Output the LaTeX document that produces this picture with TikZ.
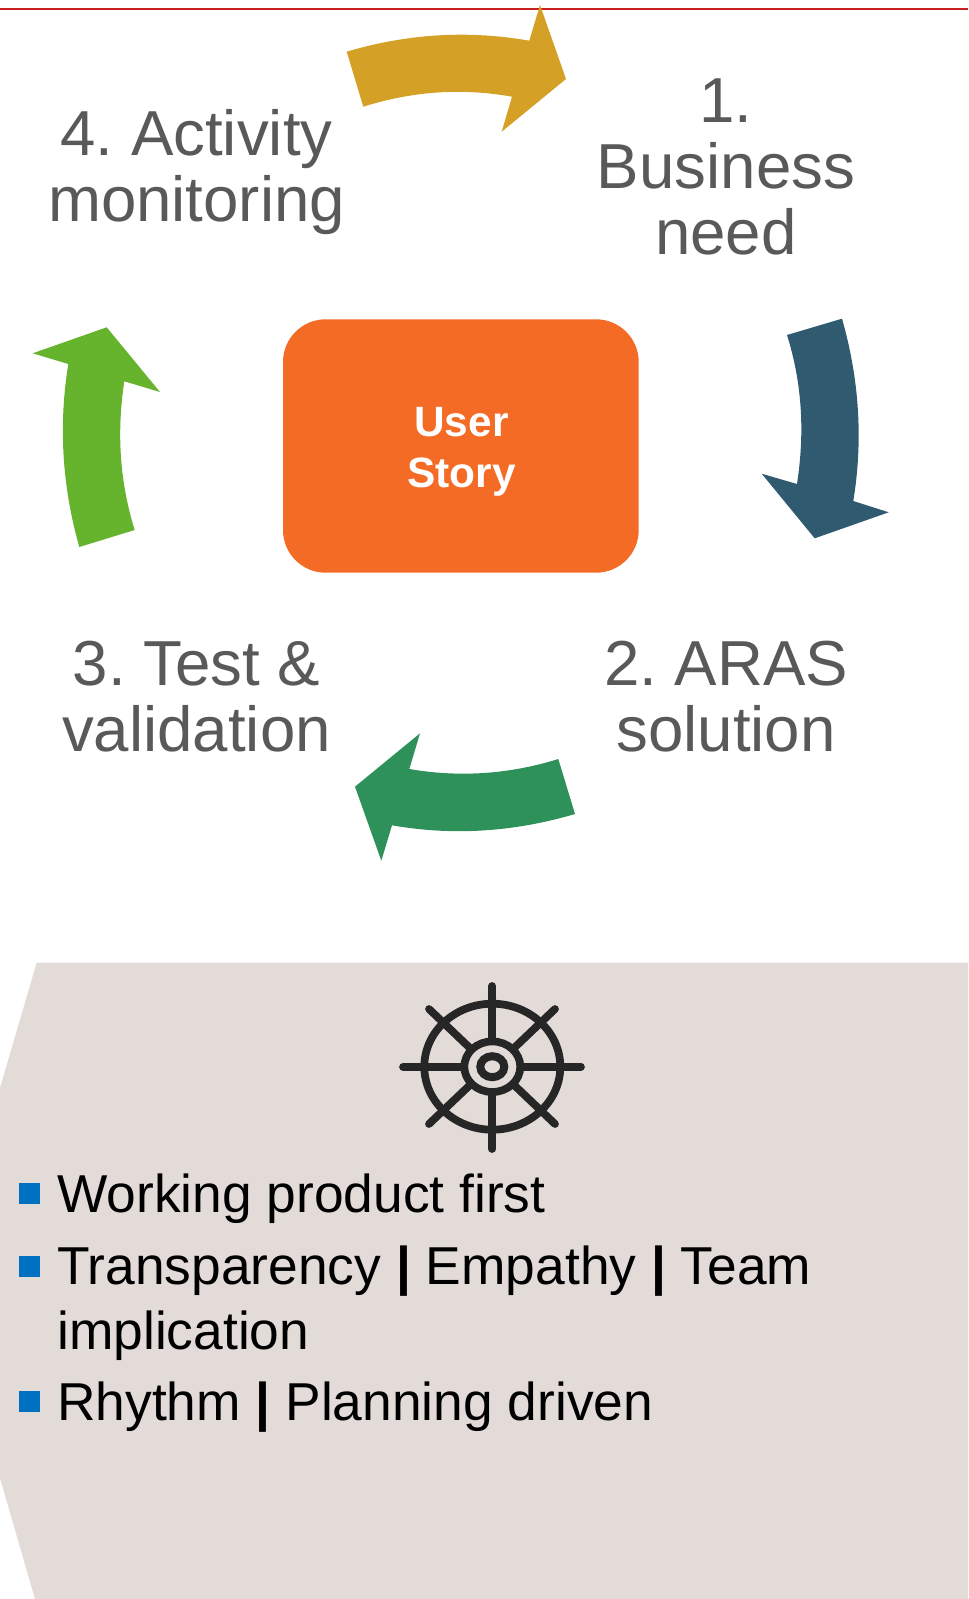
\documentclass[tikz,border=0pt]{standalone}
\usepackage{fontspec}
\setmainfont{Liberation Sans}
\frenchspacing
\newcommand{\sepbar}{{\bfseries |}}
\definecolor{cgold}{HTML}{D5A026}
\definecolor{cblue}{HTML}{305A70}
\definecolor{cdgreen}{HTML}{2E915A}
\definecolor{clgreen}{HTML}{66B32E}
\definecolor{corange}{HTML}{F46B25}
\definecolor{cgrey}{HTML}{595959}
\definecolor{cbeige}{HTML}{E2DBD7}
\definecolor{cbullet}{HTML}{0070C0}
\definecolor{cred}{HTML}{C8201F}
\definecolor{cwheel}{HTML}{262626}
\tikzset{
  steplabel/.style={text=cgrey,align=center,inner sep=0pt,anchor=base,font=\fontsize{47.7}{49.5}\selectfont},
  listtext/.style={text=black,align=left,inner sep=0pt,anchor=base west,font=\fontsize{40}{48.2}\selectfont},
  bulletbox/.style={fill=cbullet,draw=none,inner sep=0pt,minimum width=15.75pt,minimum height=15.75pt},
  wheelline/.style={draw=cwheel,line width=5.8pt,line cap=round},
  wheelring/.style={draw=cwheel,line width=5.8pt}
}
\begin{document}
\begin{tikzpicture}[x=0.75pt,y=-0.75pt]
\useasboundingbox (0,0) rectangle (968,1599);
\fill[white] (0,0) rectangle (968,1599);
\draw[cred,line width=1.2pt] (0,9) -- (968,9);
% cycle arrows
\fill[cgold] (346.7,51.7) .. controls (407.6,33.6) and (468.4,30) .. (529.3,40.7) -- (540,5) -- (566,79) -- (501.7,131.7) -- (512,96.7) .. controls (462.4,87.8) and (412.8,91.1) .. (363.3,106.7) -- cycle;
\fill[cblue] (842,318.7) .. controls (859.4,379.6) and (863.2,440.3) .. (853.3,501) -- (888.7,512.3) -- (814.7,538.3) -- (761.7,473.7) -- (797,484) .. controls (804.6,434.3) and (802.7,385) .. (787,335) -- cycle;
\fill[cdgreen] (575,814) .. controls (514,832) and (453,836) .. (392,825.3) -- (381.3,860.7) -- (355,786.7) -- (420,733.3) -- (409.3,769) .. controls (459,777.5) and (508.6,774.5) .. (558.3,759) -- cycle;
\fill[clgreen] (79.3,547) .. controls (62,486) and (58.4,425) .. (68.3,364) -- (32.7,353.3) -- (106.7,327.3) -- (160,392) -- (124.3,381.3) .. controls (116.8,430.8) and (119.2,480.4) .. (134.7,530) -- cycle;
% centre
\path[fill=corange,rounded corners=32pt] (283,319.3) rectangle (638.7,572.7);
\node[text=white,align=center,inner sep=0pt,anchor=base,font=\bfseries\fontsize{31.8}{38.2}\selectfont] (story) at (461.5,487.5) {User\\Story};
% labels
\node[steplabel] (need) at (726,254.5) {1.\\Business\\need};
\node[steplabel] (aras) at (726,751) {2. ARAS\\solution};
\node[steplabel] (test) at (196.5,751) {3. Test \&\\validation};
\node[steplabel] (mon) at (196.5,221) {4. Activity\\monitoring};
% panel
\fill[cbeige] (36.7,962.7) -- (968,962.7) -- (968,1599) -- (35,1599) -- (0,1478) -- (0,1088) -- cycle;
% wheel
\coordinate (wc) at (492.3,1066.7);
\draw[wheelring] (wc) ellipse [x radius=68,y radius=63];
\draw[wheelring] (wc) ellipse [x radius=28,y radius=25.3];
\draw[draw=cwheel,line width=6pt] (wc) ellipse [x radius=12,y radius=10.5];
\draw[wheelline] (492.3,986) -- (492.3,1040);
\draw[wheelline] (492.3,1093) -- (492.3,1149);
\draw[wheelline] (403,1066.7) -- (463,1066.7);
\draw[wheelline] (521,1066.7) -- (581,1066.7);
\draw[wheelline] (429,1009) -- (471,1049);
\draw[wheelline] (555,1009) -- (513,1049);
\draw[wheelline] (429,1124) -- (471,1084);
\draw[wheelline] (555,1124) -- (513,1084);
% list
\node[bulletbox] (b1) at (29.5,1193.5) {};
\node[bulletbox] (b2) at (29.5,1266.5) {};
\node[bulletbox] (b3) at (29.5,1401.5) {};
\node[listtext] (l1) at (57,1212.5) {Working product first};
\node[listtext] (l2) at (57,1349) {Transparency \sepbar{} Empathy \sepbar{} Team\\implication};
\node[listtext] (l3) at (57,1420.5) {Rhythm \sepbar{} Planning driven};
\end{tikzpicture}
\end{document}
